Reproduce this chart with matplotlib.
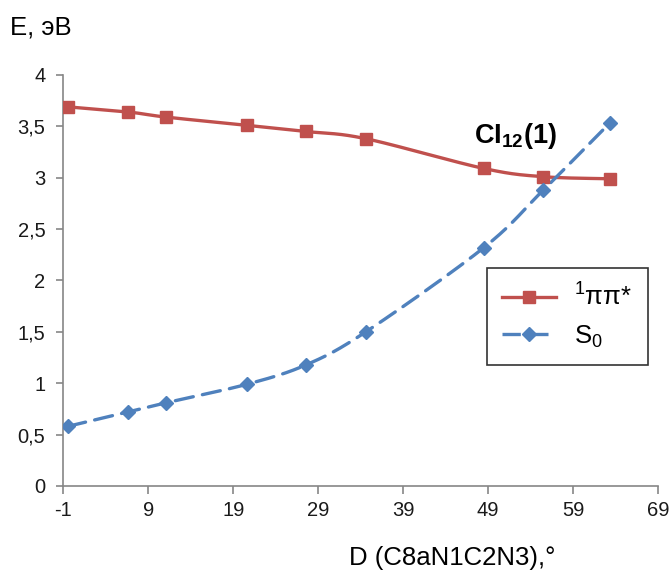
import numpy as np
import matplotlib
matplotlib.use("Agg")
import matplotlib.pyplot as plt
from matplotlib.lines import Line2D

# Dihedral angle D(C8aN1C2N3), degrees
angle = [-0.5, 6.6, 11.1, 20.6, 27.6, 34.6, 48.5, 55.5, 63.3]
# State energies, eV
e_pipi = [3.69, 3.64, 3.59, 3.51, 3.45, 3.38, 3.09, 3.01, 2.99]
e_s0 = [0.58, 0.72, 0.81, 0.99, 1.18, 1.50, 2.32, 2.88, 3.53]

x_ticks = [-1, 9, 19, 29, 39, 49, 59, 69]
y_ticks = [0, 0.5, 1, 1.5, 2, 2.5, 3, 3.5, 4]
y_tick_labels = ["0", "0,5", "1", "1,5", "2", "2,5", "3", "3,5", "4"]

RED = "#C0504D"
BLUE = "#4F81BD"
AXIS_GRAY = "#868686"

plt.rcParams["font.family"] = ["Liberation Sans", "DejaVu Sans"]
plt.rcParams["mathtext.fontset"] = "custom"
plt.rcParams["mathtext.rm"] = "Liberation Sans"
plt.rcParams["mathtext.it"] = "Liberation Sans:italic"
plt.rcParams["mathtext.bf"] = "Liberation Sans:bold"


def smooth(xs, ys, sx, sy, n=40):
    """Catmull-Rom curve through the points, computed in screen-like units."""
    p = np.column_stack([np.asarray(xs) * sx, np.asarray(ys) * sy])
    p = np.vstack([p[0], p, p[-1]])
    out = []
    for i in range(1, len(p) - 2):
        p0, p1, p2, p3 = p[i - 1], p[i], p[i + 1], p[i + 2]
        c1 = p1 + (p2 - p0) / 6.0
        c2 = p2 - (p3 - p1) / 6.0
        t = np.linspace(0, 1, n)[:, None]
        seg = ((1 - t) ** 3) * p1 + 3 * ((1 - t) ** 2) * t * c1 \
            + 3 * (1 - t) * t ** 2 * c2 + t ** 3 * p2
        out.append(seg if i == 1 else seg[1:])
    out = np.vstack(out)
    return out[:, 0] / sx, out[:, 1] / sy


fig = plt.figure(figsize=(6.69, 5.75), dpi=100)
ax = fig.add_axes([0.0949, 0.1548, 0.8886, 0.7148])

SX = 8.5      # px per degree
SY = 102.75   # px per eV

lw = 2.4
dash = (0, (5.5, 2.8))

sx_, sy_ = smooth(angle, e_pipi, SX, SY)
ax.plot(sx_, sy_, color=RED, lw=lw, solid_capstyle="round", zorder=2)
ax.plot(angle, e_pipi, ls="none", marker="s", ms=9.3, color=RED, zorder=3)

bx_, by_ = smooth(angle, e_s0, SX, SY)
ax.plot(bx_, by_, color=BLUE, lw=lw, linestyle=dash, dash_capstyle="round", zorder=2)
ax.plot(angle, e_s0, ls="none", marker="D", ms=6.8, color=BLUE, zorder=3)

ax.set_xlim(-1, 69)
ax.set_ylim(0, 4)
ax.set_xticks(x_ticks)
ax.set_xticklabels([str(v) for v in x_ticks])
ax.set_yticks(y_ticks)
ax.set_yticklabels(y_tick_labels)

for side in ("top", "right"):
    ax.spines[side].set_visible(False)
for side in ("left", "bottom"):
    ax.spines[side].set_color(AXIS_GRAY)
    ax.spines[side].set_linewidth(1.2)

ax.tick_params(axis="x", direction="out", length=6, width=1.2, color=AXIS_GRAY,
               labelsize=14.5, pad=5, labelcolor="#1a1a1a")
ax.tick_params(axis="y", direction="out", length=5, width=1.2, color=AXIS_GRAY,
               labelsize=14.5, pad=8, labelcolor="#1a1a1a")

ax.text(47.3, 3.338, r"$\mathbf{CI_{12}(1)}$", fontsize=19.5,
        ha="left", va="baseline", color="black")

fig.text(10 / 669, 1 - 35 / 575, "E, эВ", fontsize=18.5, ha="left", va="baseline")
fig.text(452 / 669, 1 - 565 / 575, "D (C8aN1C2N3),°", fontsize=18.5,
         ha="center", va="baseline")

handles = [
    Line2D([], [], color=RED, lw=lw, marker="s", ms=9.3),
    Line2D([], [], color=BLUE, lw=lw, linestyle=dash, marker="D", ms=6.8),
]
labels = [r"$^{1}$ππ*", r"S$_0$"]
leg = fig.legend(handles, labels, loc="upper left",
                 bbox_to_anchor=(487 / 669, 1 - 268 / 575),
                 fontsize=18.5, frameon=True, fancybox=False,
                 handlelength=2.1, handletextpad=0.7, labelspacing=0.5,
                 borderpad=0.6, borderaxespad=0)
leg.get_frame().set_edgecolor("black")
leg.get_frame().set_linewidth(1.2)

fig.savefig("out.png", dpi=100)
